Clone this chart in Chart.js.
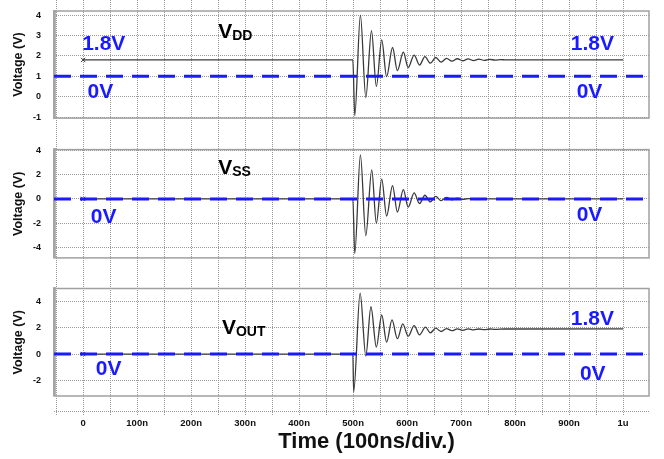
<!DOCTYPE html>
<html>
<head>
<meta charset="utf-8">
<script src="https://cdn.jsdelivr.net/npm/chart.js@4.4.0/dist/chart.umd.min.js"></script>
<style>
  body { margin: 0; background: #fff; }
  #wrap { position: relative; width: 664px; height: 459px; }
</style>
</head>
<body>
<div id="wrap"><canvas id="scopeChart"></canvas></div>
<script>
// ---- time axis (ns) ----
const xGridTimes = [-50, 0, 50, 100, 150, 200, 250, 300, 350, 400, 450, 500,
                    550, 600, 650, 700, 750, 800, 850, 900, 950, 1000];
const xLabelTimes = [0, 100, 200, 300, 400, 500, 600, 700, 800, 900, 1000];
const xTickLabels = ['0', '100n', '200n', '300n', '400n', '500n', '600n', '700n', '800n', '900n', '1u'];

// ---- y ticks per panel ----
const vddTicks = [-1, 0, 1, 2, 3, 4];
const vssTicks = [-4, -2, 0, 2, 4];
const voutTicks = [-2, 0, 2, 4];

// ---- V_DD (peaks / troughs) ----
const vddTime = [0, 499.5, 503, 513.5, 523.5, 534, 543, 553, 562, 573, 582, 593, 602, 613, 623, 633,
                 643, 653, 663, 673, 683, 693, 703, 713, 723, 733, 743, 753, 763, 773, 783, 795, 1000];
const vddVolt = [1.8, 1.8, -0.93, 4.0, -0.04, 3.24, 0.5, 2.78, 0.98, 2.41, 1.28, 2.18, 1.43, 2.04, 1.55, 1.96,
                 1.64, 1.92, 1.69, 1.88, 1.74, 1.86, 1.76, 1.85, 1.77, 1.84, 1.78, 1.83, 1.79, 1.82, 1.8, 1.8, 1.8];

// ---- V_SS ----
const vssTime = [0, 499.5, 503, 513.5, 523.5, 534.5, 543, 553, 562, 573, 582, 593, 602, 613, 623, 633,
                 643, 653, 663, 673, 683, 693, 703, 713, 725, 1000];
const vssVolt = [0, 0, -4.5, 3.62, -3.03, 2.39, -2.0, 1.63, -1.41, 1.09, -1.08, 0.76, -0.68, 0.49, -0.38, 0.3,
                 -0.25, 0.2, -0.15, 0.12, -0.08, 0.06, -0.04, 0.02, 0, 0];

// ---- V_OUT ----
const voutTime = [0, 499.5, 501, 513, 523.5, 533, 543, 553, 562, 572, 582, 592, 602, 613, 623, 634,
                  643, 653, 663, 673, 683, 693, 703, 713, 723, 733, 743, 753, 763, 780, 1000];
const voutVolt = [0, 0, -2.88, 4.65, -0.15, 3.61, 0.53, 2.98, 0.91, 2.6, 1.17, 2.3, 1.36, 2.17, 1.47, 2.05,
                  1.62, 1.97, 1.72, 1.94, 1.78, 1.92, 1.81, 1.92, 1.84, 1.91, 1.86, 1.91, 1.88, 1.91, 1.92];

// dashed "0V" reference level in each panel
const refLevel = [1, 0, 0];

const BLUE = '#1a1aff';
const FONT = '"Liberation Sans", Arial, sans-serif';
Chart.defaults.font.family = FONT;

// text notes, placed in data units of each panel
const notes = [
  { axis: 'y1', t: -1.9, v: 2.29, text: '1.8V', color: BLUE },
  { axis: 'y1', t: 8, v: -0.08, text: '0V', color: BLUE },
  { axis: 'y1', t: 903, v: 2.29, text: '1.8V', color: BLUE },
  { axis: 'y1', t: 914, v: -0.07, text: '0V', color: BLUE },
  { axis: 'y1', t: 250, v: 2.86, text: 'V', sub: 'DD', color: '#000' },
  { axis: 'y2', t: 14, v: -1.97, text: '0V', color: BLUE },
  { axis: 'y2', t: 914, v: -1.81, text: '0V', color: BLUE },
  { axis: 'y2', t: 250, v: 2.01, text: 'V', sub: 'SS', color: '#000' },
  { axis: 'y3', t: 23.5, v: -1.62, text: '0V', color: BLUE },
  { axis: 'y3', t: 903, v: 2.2, text: '1.8V', color: BLUE },
  { axis: 'y3', t: 920, v: -2.0, text: '0V', color: BLUE },
  { axis: 'y3', t: 257, v: 1.51, text: 'V', sub: 'OUT', color: '#000' }
];

const toPoints = (ts, vs) => ts.map((t, i) => ({ x: t, y: vs[i] }));

function trace(ts, vs, axis) {
  return {
    data: toPoints(ts, vs),
    yAxisID: axis,
    borderColor: '#3a3a3a',
    borderWidth: 1.3,
    cubicInterpolationMode: 'monotone',
    pointStyle: 'crossRot',
    pointRadius: c => c.dataIndex === 0 ? 3 : 0,
    pointBorderColor: '#333',
    pointBorderWidth: 1,
    fill: false,
    order: 2
  };
}

function refLine(level, axis) {
  return {
    data: [{ x: -54, y: level }, { x: 1048, y: level }],
    yAxisID: axis,
    borderColor: BLUE,
    borderWidth: 3,
    borderDash: [17, 9],
    pointRadius: 0,
    fill: false,
    order: 1
  };
}

function panelAxis(min, max, ticks, weight) {
  return {
    axis: 'y', type: 'linear', position: 'left', stack: 'scope', stackWeight: weight,
    min: min, max: max,
    afterBuildTicks: s => { s.ticks = ticks.map(v => ({ value: v })); },
    afterFit: s => { s.width = 54; s.paddingTop = 0; s.paddingBottom = 0; },
    grid: { color: '#9a9a9a', lineWidth: 1, drawTicks: false },
    border: { color: '#b4b4b4', width: 3, dash: [1, 1] },
    ticks: { autoSkip: false, padding: 13, color: '#111', font: { size: 9, weight: 'bold' } },
    title: { display: true, text: 'Voltage (V)', color: '#111',
             font: { size: 12.5, weight: 'bold' }, padding: { top: 11, bottom: 0 } }
  };
}

function gapAxis(weight) {
  return {
    axis: 'y', type: 'linear', position: 'left', stack: 'scope', stackWeight: weight,
    min: 0, max: 1,
    afterFit: s => { s.width = 54; s.paddingTop = 0; s.paddingBottom = 0; },
    ticks: { display: false }, grid: { display: false }, border: { display: false }
  };
}

// frames round each panel, dotted time axis line, notes and x title
const scopeDecor = {
  id: 'scopeDecor',
  beforeDatasetsDraw(chart) {
    const { ctx, chartArea, scales } = chart;
    ctx.save();
    ctx.strokeStyle = '#a0a0a0';
    ctx.lineWidth = 1.5;
    ['y1', 'y2', 'y3'].forEach(id => {
      const s = scales[id];
      ctx.strokeRect(chartArea.left, s.top, chartArea.right - chartArea.left, s.bottom - s.top);
    });
    ctx.strokeStyle = '#9a9a9a';
    ctx.lineWidth = 1;
    ctx.setLineDash([1, 1]);
    ctx.beginPath();
    ctx.moveTo(chartArea.left, chartArea.bottom - 0.5);
    ctx.lineTo(chartArea.right, chartArea.bottom - 0.5);
    ctx.stroke();
    ctx.restore();
  },
  afterDraw(chart) {
    const { ctx, chartArea, scales } = chart;
    ctx.save();
    ctx.textAlign = 'left';
    ctx.textBaseline = 'alphabetic';
    notes.forEach(n => {
      const x = scales.x.getPixelForValue(n.t);
      const y = scales[n.axis].getPixelForValue(n.v);
      ctx.fillStyle = n.color;
      ctx.font = 'bold 21px ' + FONT;
      ctx.fillText(n.text, x, y);
      if (n.sub) {
        const w = ctx.measureText(n.text).width;
        ctx.font = 'bold 14px ' + FONT;
        ctx.fillText(n.sub, x + w, y + 2);
      }
    });
    ctx.fillStyle = '#111';
    ctx.textAlign = 'center';
    ctx.font = 'bold 22px ' + FONT;
    ctx.fillText('Time (100ns/div.)', (chartArea.left + chartArea.right) / 2 + 15, 448);
    ctx.restore();
  }
};

new Chart(document.getElementById('scopeChart'), {
  type: 'line',
  data: {
    datasets: [
      trace(vddTime, vddVolt, 'y1'),
      trace(vssTime, vssVolt, 'y2'),
      trace(voutTime, voutVolt, 'y3'),
      refLine(refLevel[0], 'y1'),
      refLine(refLevel[1], 'y2'),
      refLine(refLevel[2], 'y3')
    ]
  },
  options: {
    responsive: true,
    maintainAspectRatio: false,
    animation: false,
    layout: { autoPadding: false, padding: { left: 0, right: 15, top: 0, bottom: 0 } },
    plugins: { legend: { display: false }, tooltip: { enabled: false } },
    scales: {
      x: {
        type: 'linear', position: 'bottom', min: -54, max: 1048,
        afterBuildTicks: s => { s.ticks = xGridTimes.map(v => ({ value: v })); },
        afterFit: s => { s.height = 47; s.paddingLeft = 0; s.paddingRight = 0; },
        grid: { color: '#9a9a9a', lineWidth: 1, drawTicks: true, tickLength: 4, tickBorderDash: [1, 1] },
        border: { display: false, dash: [1, 1] },
        ticks: {
          autoSkip: false, maxRotation: 0, minRotation: 0, padding: 2, color: '#111',
          font: { size: 9.5, weight: 'bold' },
          callback: v => {
            const i = xLabelTimes.indexOf(v);
            return i >= 0 ? xTickLabels[i] : '';
          }
        }
      },
      gapBottom: gapAxis(16),
      y3: panelAxis(-3.2, 5, voutTicks, 107.4),
      gap2: gapAxis(30.6),
      y2: panelAxis(-4.85, 4.05, vssTicks, 108.2),
      gap1: gapAxis(31.5),
      y1: panelAxis(-1.05, 4.2, vddTicks, 107),
      gapTop: gapAxis(11)
    }
  },
  plugins: [scopeDecor]
});
</script>
</body>
</html>
